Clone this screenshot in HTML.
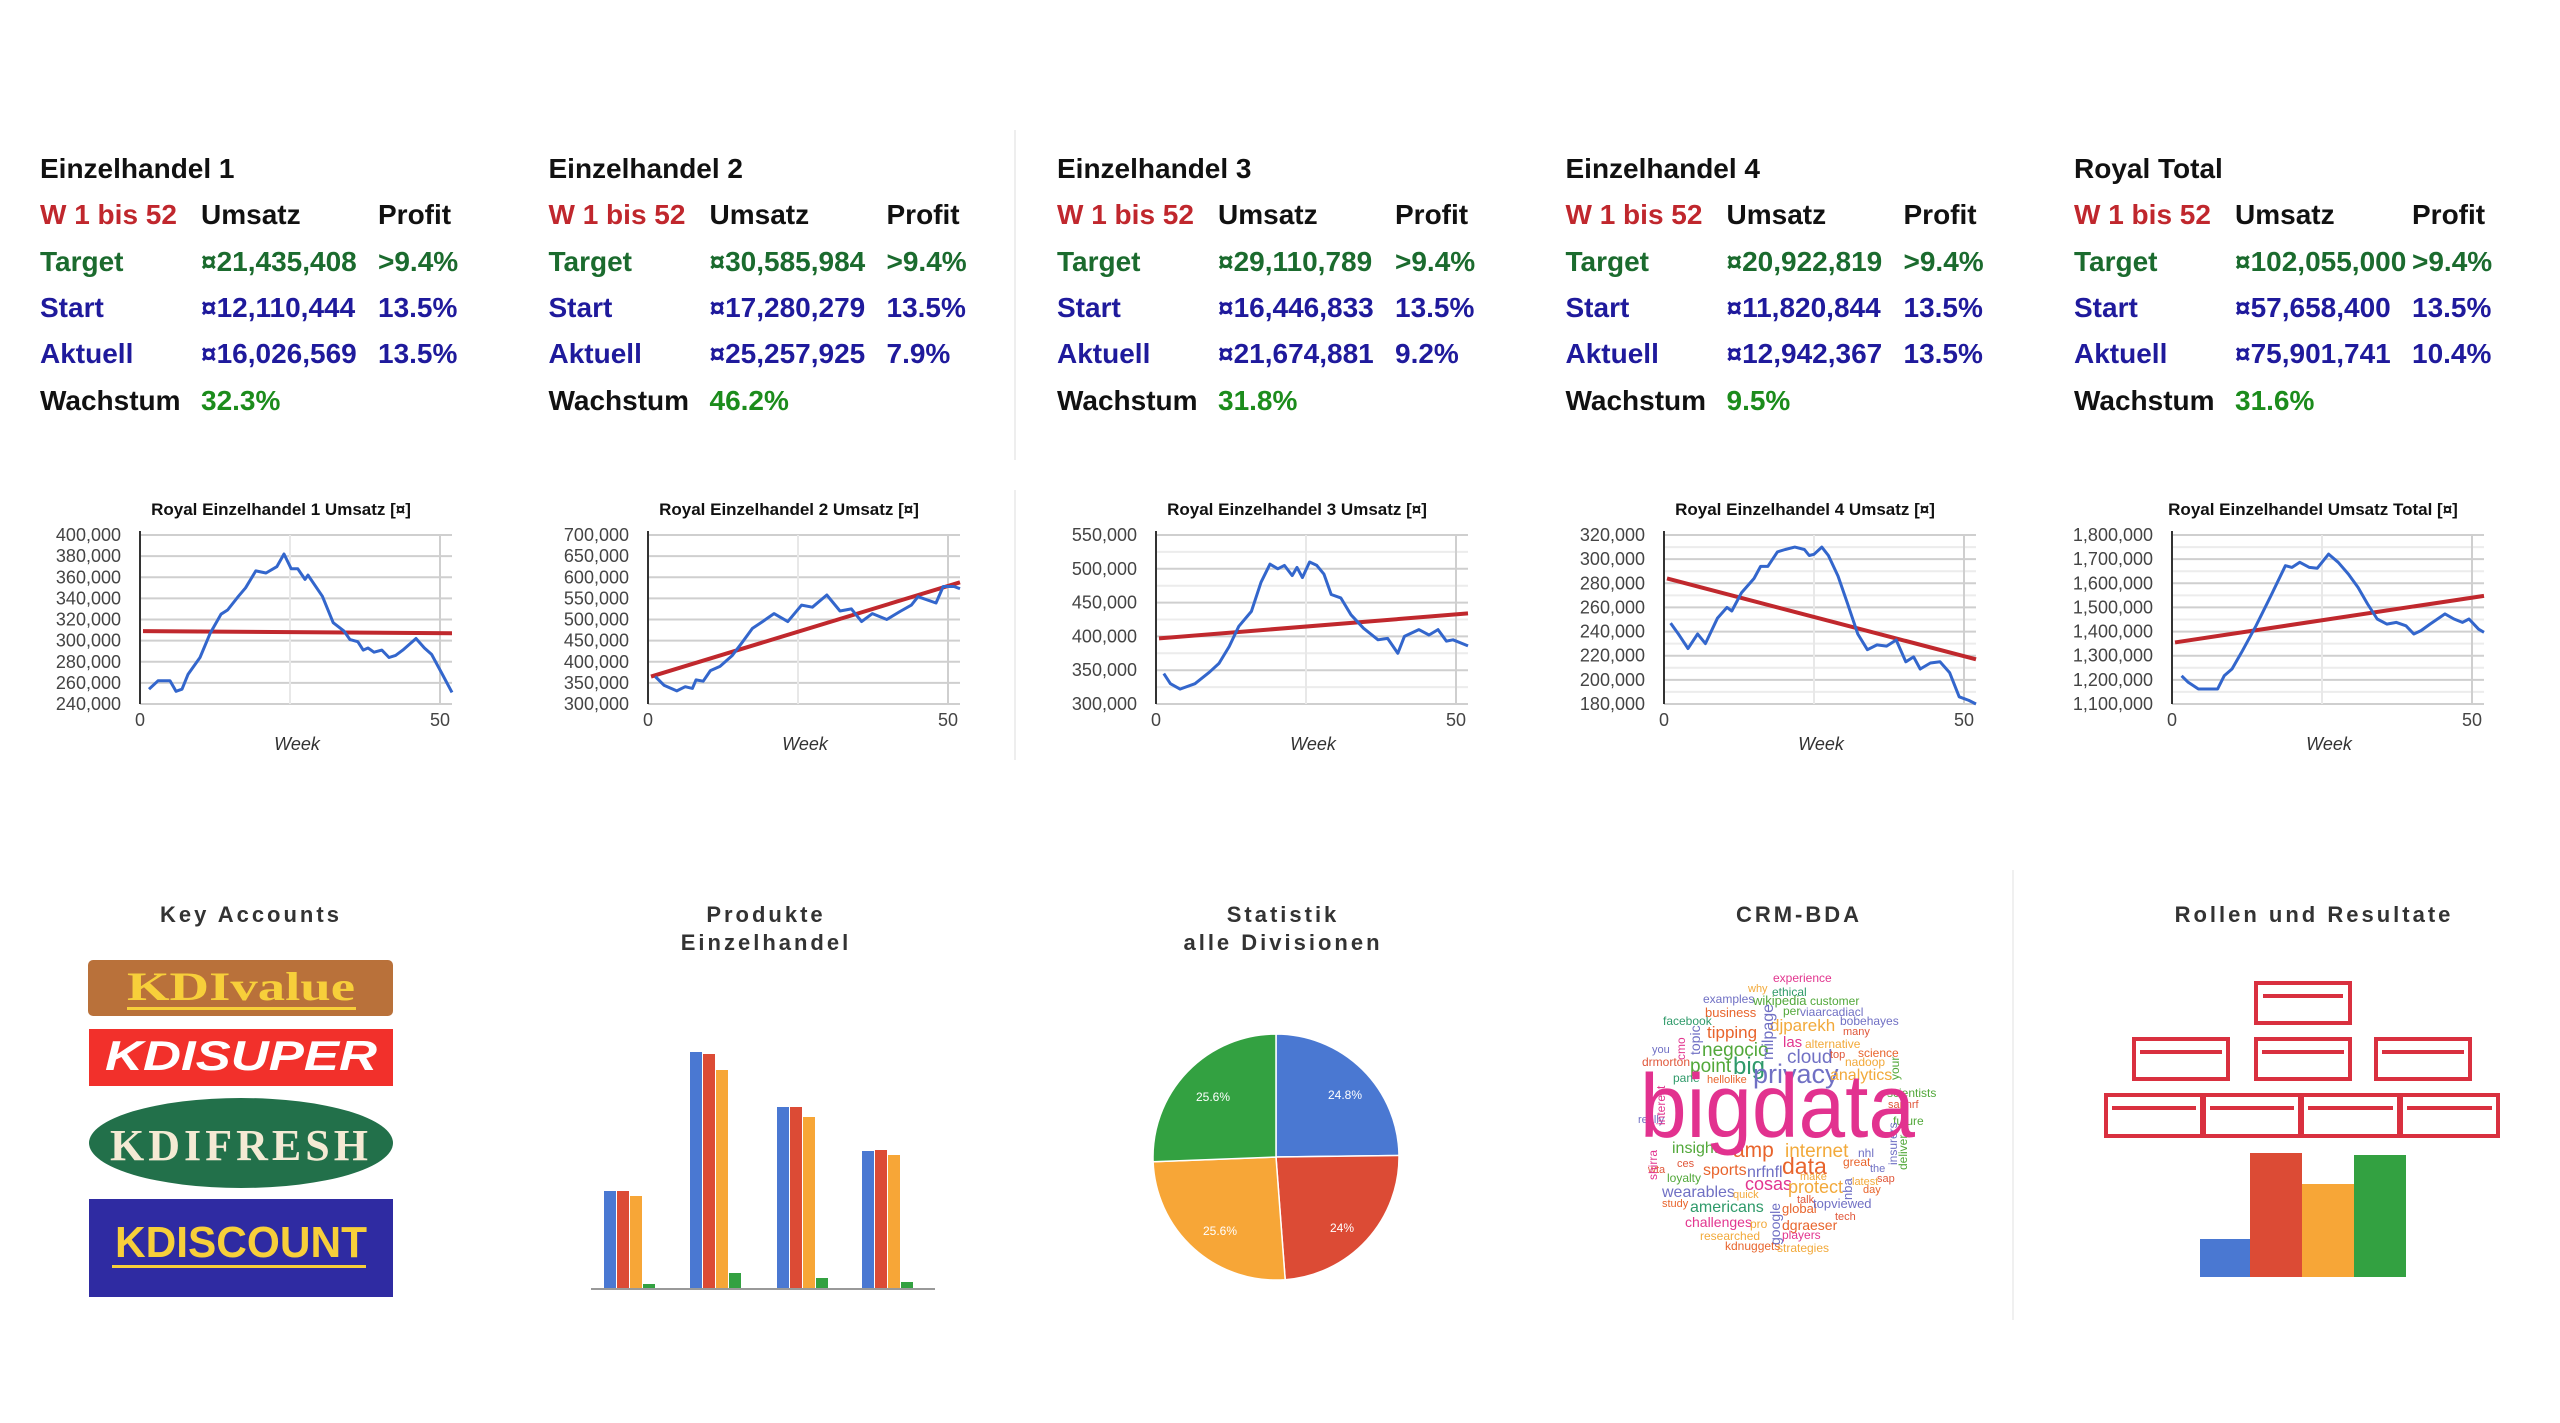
<!DOCTYPE html>
<html><head><meta charset="utf-8"><style>
html,body{margin:0;padding:0;background:#fff;}
svg{display:block;}
</style></head><body>
<svg id="s" width="2560" height="1423" xmlns="http://www.w3.org/2000/svg" font-family="Liberation Sans, sans-serif">
<rect width="2560" height="1423" fill="#fff"/>
<line x1="1015" y1="130" x2="1015" y2="460" stroke="#eee" stroke-width="2"/>
<line x1="1015" y1="490" x2="1015" y2="760" stroke="#eee" stroke-width="2"/>
<line x1="2013" y1="870" x2="2013" y2="1320" stroke="#f0f0f0" stroke-width="2"/>
<g id="panels"></g>
<g id="charts"></g>

<!-- bottom titles -->
<g font-weight="bold" font-size="22" fill="#333" letter-spacing="3" text-anchor="middle">
<text x="251" y="922">Key Accounts</text>
<text x="766" y="922">Produkte</text>
<text x="766" y="950">Einzelhandel</text>
<text x="1283" y="922">Statistik</text>
<text x="1283" y="950">alle Divisionen</text>
<text x="1799" y="922">CRM-BDA</text>
<text x="2314" y="922">Rollen und Resultate</text>
</g>

<!-- logos -->
<rect x="88" y="960" width="305" height="56" rx="5" fill="#b9713a"/>
<text x="241" y="1000" text-anchor="middle" font-family="Liberation Serif, serif" font-weight="bold" font-size="40" fill="#f7cf3a" textLength="228" lengthAdjust="spacingAndGlyphs">KDIvalue</text>
<rect x="127" y="1007" width="229" height="3" fill="#f7cf3a"/>
<rect x="89" y="1029" width="304" height="57" fill="#f2302b"/>
<text x="241" y="1070" text-anchor="middle" font-weight="bold" font-style="italic" font-size="42" fill="#fff" textLength="272" lengthAdjust="spacingAndGlyphs">KDISUPER</text>
<ellipse cx="241" cy="1143" rx="152" ry="45" fill="#22704a"/>
<text x="239" y="1160" text-anchor="middle" font-family="Liberation Serif, serif" font-weight="bold" font-size="44" fill="#f4ead4" textLength="258" lengthAdjust="spacing">KDIFRESH</text>
<rect x="89" y="1199" width="304" height="98" fill="#2f2ba2"/>
<text x="241" y="1257" text-anchor="middle" font-weight="bold" font-size="44" fill="#f7cf3a" textLength="252" lengthAdjust="spacingAndGlyphs">KDISCOUNT</text>
<rect x="112" y="1265" width="254" height="3" fill="#f7cf3a"/>

<!-- bar chart -->
<g id="bars"></g>
<line x1="591" y1="1289" x2="935" y2="1289" stroke="#999" stroke-width="2"/>

<!-- pie -->
<path d="M1276,1157 L1276,1034 A123,123 0 0 1 1399,1155.5 Z" fill="#4a78d2" stroke="#fff" stroke-width="1.5"/>
<path d="M1276,1157 L1399,1155.5 A123,123 0 0 1 1285.2,1279.7 Z" fill="#dc4b35" stroke="#fff" stroke-width="1.5"/>
<path d="M1276,1157 L1285.2,1279.7 A123,123 0 0 1 1153.1,1161.7 Z" fill="#f7a637" stroke="#fff" stroke-width="1.5"/>
<path d="M1276,1157 L1153.1,1161.7 A123,123 0 0 1 1276,1034 Z" fill="#33a141" stroke="#fff" stroke-width="1.5"/>
<g font-size="12" fill="#fff" text-anchor="middle">
<text x="1345" y="1099">24.8%</text>
<text x="1342" y="1232">24%</text>
<text x="1220" y="1235">25.6%</text>
<text x="1213" y="1101">25.6%</text>
</g>

<!-- word cloud -->
<g id="cloud"></g>

<!-- rollen -->
<g fill="none" stroke="#d9303f" stroke-width="4">
<rect x="2256" y="983" width="94" height="40"/>
<rect x="2134" y="1039" width="94" height="40"/>
<rect x="2256" y="1039" width="94" height="40"/>
<rect x="2376" y="1039" width="94" height="40"/>
<rect x="2106" y="1095" width="96" height="41"/>
<rect x="2204" y="1095" width="96" height="41"/>
<rect x="2302" y="1095" width="97" height="41"/>
<rect x="2401" y="1095" width="97" height="41"/>
</g>
<g stroke="#d9303f" stroke-width="4">
<line x1="2263" y1="996" x2="2343" y2="996"/>
<line x1="2140" y1="1052" x2="2222" y2="1052"/>
<line x1="2262" y1="1052" x2="2344" y2="1052"/>
<line x1="2382" y1="1052" x2="2464" y2="1052"/>
<line x1="2112" y1="1108" x2="2196" y2="1108"/>
<line x1="2210" y1="1108" x2="2294" y2="1108"/>
<line x1="2308" y1="1108" x2="2393" y2="1108"/>
<line x1="2407" y1="1108" x2="2492" y2="1108"/>
</g>
<rect x="2200" y="1239" width="50" height="38" fill="#4a78d2"/>
<rect x="2250" y="1153" width="52" height="124" fill="#dc4b35"/>
<rect x="2302" y="1184" width="52" height="93" fill="#f7a637"/>
<rect x="2354" y="1155" width="52" height="122" fill="#33a141"/>
</svg>
<script>
var NS="http://www.w3.org/2000/svg";
function el(p,t,a,txt){var e=document.createElementNS(NS,t);for(var k in a)e.setAttribute(k,a[k]);if(txt!=null)e.textContent=txt;p.appendChild(e);return e;}
// panels
var P=[["Einzelhandel 1","¤21,435,408",">9.4%","¤12,110,444","13.5%","¤16,026,569","13.5%","32.3%"],
["Einzelhandel 2","¤30,585,984",">9.4%","¤17,280,279","13.5%","¤25,257,925","7.9%","46.2%"],
["Einzelhandel 3","¤29,110,789",">9.4%","¤16,446,833","13.5%","¤21,674,881","9.2%","31.8%"],
["Einzelhandel 4","¤20,922,819",">9.4%","¤11,820,844","13.5%","¤12,942,367","13.5%","9.5%"],
["Royal Total","¤102,055,000",">9.4%","¤57,658,400","13.5%","¤75,901,741","10.4%","31.6%"]];
var pg=document.getElementById("panels");
var ys=[178,224,271,317,363,410];
var red="#c0272d",grn="#1b6b2e",blu="#1f1a9c",grn2="#1c8c1c",blk="#111";
P.forEach(function(p,i){
 var x=40+508.5*i, o={"font-size":"28","font-weight":"600"};
 function t(dx,y,c,s){var a={x:x+dx,y:y,fill:c,"font-size":"28","font-weight":"600"};el(pg,"text",a,s);}
 t(0,ys[0],blk,p[0]);
 t(0,ys[1],red,"W 1 bis 52");t(161,ys[1],blk,"Umsatz");t(338,ys[1],blk,"Profit");
 t(0,ys[2],grn,"Target");t(161,ys[2],grn,p[1]);t(338,ys[2],grn,p[2]);
 t(0,ys[3],blu,"Start");t(161,ys[3],blu,p[3]);t(338,ys[3],blu,p[4]);
 t(0,ys[4],blu,"Aktuell");t(161,ys[4],blu,p[5]);t(338,ys[4],blu,p[6]);
 t(0,ys[5],blk,"Wachstum");t(161,ys[5],grn2,p[7]);
});
// charts
var C=[
{t:"Royal Einzelhandel 1 Umsatz [¤]",min:240,max:400,step:20,minor:false,tr:[309,307],
d:[[1.5,254],[3,262],[5,262],[6,252],[7,254],[8,268],[10,284],[11.7,307],[13.5,325],[14.6,329],[16.4,342],[17.6,350],[19.3,366],[21,364],[22.8,370],[24,382],[25.2,368],[26.3,368],[27.5,358],[28,362],[30.4,342],[32.2,317],[34,309],[35,301],[36.3,299],[37.2,291],[38,293],[39,289],[40.3,291],[41.5,284],[42.6,286],[43.8,291],[46,302],[47.4,293],[48.6,287],[50.4,268],[52,251]]},
{t:"Royal Einzelhandel 2 Umsatz [¤]",min:300,max:700,step:50,minor:false,tr:[365,588],
d:[[1.2,365],[2.7,344],[4.8,331],[6.2,341],[7.4,337],[8,357],[9.2,354],[10.4,379],[12,389],[14,414],[15.6,444],[17.4,479],[19,494],[21,514],[23.3,495],[25.6,534],[27.4,529],[29.8,558],[32,520],[33.9,525],[35.6,495],[37.4,514],[39.8,500],[42,519],[43.9,534],[45,554],[48,539],[49.2,578],[51,578],[52,573]]},
{t:"Royal Einzelhandel 3 Umsatz [¤]",min:300,max:550,step:50,minor:true,tr:[397,434],
d:[[1.3,345],[2.4,330],[4,322],[6.5,330],[8.9,347],[10.5,360],[12.2,385],[13.8,415],[15.9,437],[17.5,480],[19,507],[20.3,500],[21.4,505],[22.7,490],[23.5,502],[24.4,487],[25.6,510],[26.8,505],[28,492],[29.2,462],[30.8,457],[32.5,432],[34.6,412],[37,395],[38.6,397],[40.3,375],[41.4,400],[43.8,410],[45.5,402],[47,410],[48.4,393],[49.5,395],[52,386]]},
{t:"Royal Einzelhandel 4 Umsatz [¤]",min:180,max:320,step:20,minor:true,tr:[284,217],
d:[[1.1,247],[2.4,238],[4,226],[5.6,238],[6.9,230],[8.9,251],[10.5,260],[11.3,257],[12.9,272],[15,284],[16.1,294],[17.3,294],[18.9,306],[20.2,308],[21.8,310],[23.4,308],[24.2,303],[25,304],[26.3,310],[27.4,303],[29,286],[30.6,263],[32.3,238],[33.9,225],[35.5,229],[37.1,228],[38.7,233],[40.3,215],[41.6,219],[42.7,209],[44.4,214],[46,215],[47.6,206],[49.2,186],[50.8,183],[52,180]]},
{t:"Royal Einzelhandel Umsatz Total [¤]",min:1100,max:1800,step:100,minor:true,tr:[1355,1548],
d:[[1.6,1217],[2.7,1190],[4.4,1162],[6,1162],[7.6,1162],[8.7,1217],[10,1245],[11.6,1314],[14,1424],[16.5,1549],[18.9,1673],[20,1666],[21.3,1687],[22.9,1666],[24.2,1662],[26.1,1721],[27.7,1687],[29.4,1638],[31,1583],[32.6,1514],[34.2,1452],[35.8,1431],[37.4,1438],[39,1424],[40.3,1390],[41.5,1404],[43,1431],[45.5,1473],[47,1452],[48.4,1438],[49.5,1452],[51.1,1410],[52,1397]]}];
var cg=document.getElementById("charts");
function fmt(v){return (v*1000).toLocaleString("en-US");}
C.forEach(function(c,i){
 var L=140+508*i,W=312,T=535,B=704;
 function X(w){return L+W*w/52;} function Y(v){return B-(B-T)*(v-c.min)/(c.max-c.min);}
 el(cg,"text",{x:L+141,y:515,"text-anchor":"middle","font-size":"17","font-weight":"bold",fill:"#111"},c.t);
 if(c.minor){for(var v=c.min+c.step/2;v<c.max;v+=c.step)el(cg,"line",{x1:L,x2:L+W,y1:Y(v),y2:Y(v),stroke:"#ececec","stroke-width":2});}
 for(var v=c.min;v<=c.max+0.01;v+=c.step){
  el(cg,"line",{x1:L,x2:L+W,y1:Y(v),y2:Y(v),stroke:"#cfcfcf","stroke-width":2});
  el(cg,"text",{x:L-19,y:Y(v)+6,"text-anchor":"end","font-size":"18",fill:"#444"},fmt(v));
 }
 el(cg,"line",{x1:X(25),x2:X(25),y1:T,y2:B,stroke:"#e8e8e8","stroke-width":2});
 el(cg,"line",{x1:X(50),x2:X(50),y1:T,y2:B,stroke:"#cfcfcf","stroke-width":2});
 el(cg,"line",{x1:L,x2:L,y1:T-4,y2:B,stroke:"#333","stroke-width":2});
 el(cg,"text",{x:L,y:726,"text-anchor":"middle","font-size":"18",fill:"#444"},"0");
 el(cg,"text",{x:X(50),y:726,"text-anchor":"middle","font-size":"18",fill:"#444"},"50");
 el(cg,"text",{x:L+157,y:750,"text-anchor":"middle","font-size":"18","font-style":"italic",fill:"#333"},"Week");
 el(cg,"line",{x1:X(0.5),y1:Y(c.tr[0]),x2:X(52),y2:Y(c.tr[1]),stroke:"#c0282d","stroke-width":4});
 el(cg,"polyline",{points:c.d.map(function(p){return X(p[0]).toFixed(1)+","+Y(p[1]).toFixed(1);}).join(" "),fill:"none",stroke:"#3366cc","stroke-width":3,"stroke-linejoin":"round"});
});
// bars
var bg=document.getElementById("bars"),cols=["#4a78d2","#dc4b35","#f7a637","#33a141"];
[[604,[1191,1191,1196,1284]],[690,[1052,1054,1070,1273]],[777,[1107,1107,1117,1278]],[862,[1151,1150,1155,1282]]].forEach(function(g){
 g[1].forEach(function(t,j){el(bg,"rect",{x:g[0]+j*13,y:t,width:12,height:1289-t,fill:cols[j]});});
});
// cloud
var M="#e2368f",O="#e8642c",Y="#f2a93a",G="#52a83a",T="#2f9a6a",U="#7070c4",R="#e0573a";
var W=[["experience",1773,982,12,M],["why",1748,992,11,Y],["ethical",1772,996,12,T],["examples",1703,1003,12,U],["wikipedia",1753,1005,13,G],["customer",1810,1005,12,G],
["business",1705,1017,13,O],["per",1783,1015,12,G],["viaarcadiacl",1800,1016,12,U],["facebook",1663,1025,12,T],["djparekh",1770,1031,17,Y],["bobehayes",1840,1025,12,U],
["tipping",1707,1038,17,O],["many",1843,1035,11,R],["las",1783,1047,15,M],["alternative",1805,1048,12,Y],["you",1652,1053,11,U],["negocio",1702,1056,19,G],
["cloud",1787,1063,19,U],["top",1830,1058,11,R],["science",1858,1057,12,O],["drmorton",1642,1066,12,R],["point",1690,1072,19,G],["big",1733,1074,24,T],
["privacy",1753,1083,27,U],["nadoop",1845,1066,12,Y],["analytics",1830,1080,16,Y],["pane",1673,1082,12,T],["hellolike",1707,1083,11,O],["scientists",1887,1097,12,G],
["sapnrf",1888,1108,11,R],["really",1638,1123,11,U],["future",1893,1125,12,G],["insight",1672,1153,16,G],["amp",1733,1157,21,O],["internet",1785,1157,19,Y],
["nhl",1858,1157,12,U],["ces",1677,1167,11,R],["sports",1703,1175,16,O],["data",1782,1174,23,O],["nrfnfl",1747,1177,16,U],["great",1843,1166,12,O],
["the",1870,1172,11,U],["wta",1648,1173,11,R],["loyalty",1667,1182,12,G],["cosas",1745,1190,18,M],["protect",1788,1193,18,Y],["make",1800,1180,11,Y],
["latest",1852,1185,11,Y],["sap",1877,1182,11,R],["wearables",1662,1197,16,U],["quick",1733,1198,11,Y],["day",1863,1193,11,O],["study",1662,1207,11,O],
["talk",1797,1203,11,R],["americans",1690,1212,16,T],["global",1782,1213,13,O],["topviewed",1813,1208,13,U],["tech",1835,1220,11,R],["challenges",1685,1227,14,M],
["pro",1750,1228,12,Y],["dgraeser",1782,1230,14,O],["researched",1700,1240,12,Y],["players",1782,1239,12,M],["kdnuggets",1725,1250,12,O],["strategies",1777,1252,12,Y]];
var wg=document.getElementById("cloud");
W.forEach(function(w){el(wg,"text",{x:w[1],y:w[2],"font-size":w[3],fill:w[4]},w[0]);});
[["milpage",1773,1060,16,U],["topic",1700,1055,14,U],["cmo",1685,1060,12,M],["interest",1665,1125,12,M],["google",1780,1245,14,U],["nba",1852,1200,13,U],["insurers",1897,1165,12,U],["deliver",1907,1170,12,G],["your",1899,1080,12,G],["shirra",1657,1180,12,M]].forEach(function(w){
 el(wg,"text",{x:0,y:0,"font-size":w[3],fill:w[4],transform:"translate("+w[1]+","+w[2]+") rotate(-90)"},w[0]);});
el(wg,"text",{x:1640,y:1137,"font-size":"90",fill:"#e2328f",textLength:"275",lengthAdjust:"spacingAndGlyphs"},"bigdata");
</script>
</body></html>
